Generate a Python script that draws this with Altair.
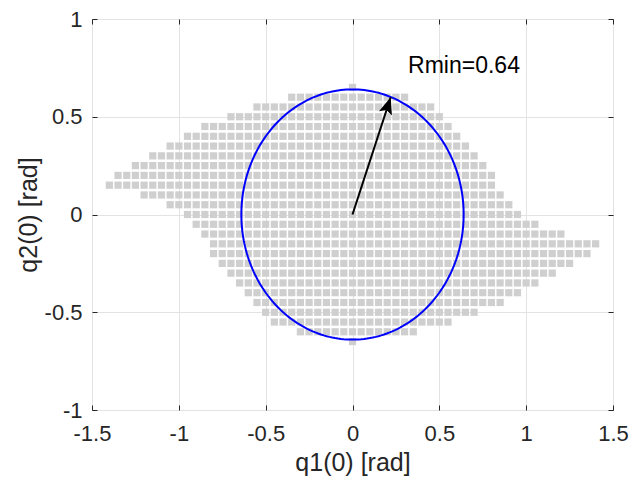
import altair as alt
import numpy as np
import pandas as pd

# ---- data ----
q2_rows = [0.65, 0.60, 0.55, 0.50, 0.45, 0.40, 0.35, 0.30, 0.25, 0.20, 0.15, 0.10, 0.05, 0.00,
           -0.05, -0.10, -0.15, -0.20, -0.25, -0.30, -0.35, -0.40, -0.45, -0.50, -0.55, -0.60, -0.65]
q1_left = [0.00, -0.35, -0.55, -0.70, -0.85, -0.95, -1.05, -1.15, -1.25, -1.35, -1.40, -1.20, -1.05, -0.95,
           -0.90, -0.85, -0.80, -0.80, -0.75, -0.70, -0.65, -0.60, -0.55, -0.50, -0.45, -0.30, 0.00]
q1_right = [0.00, 0.30, 0.45, 0.50, 0.55, 0.60, 0.65, 0.70, 0.75, 0.80, 0.80, 0.85, 0.90, 0.95,
            1.05, 1.20, 1.40, 1.35, 1.25, 1.15, 1.05, 0.95, 0.85, 0.70, 0.55, 0.35, 0.00]
grid_step = 0.05

r_min = 0.64
arrow_tip = [0.22, 0.60]
label_pos = [0.32, 0.76]
label_text = "Rmin=0.64"

x_ticks = [-1.5, -1, -0.5, 0, 0.5, 1, 1.5]
y_ticks = [-1, -0.5, 0, 0.5, 1]
x_title = "q1(0) [rad]"
y_title = "q2(0) [rad]"

# ---- build tables ----
pts = []
for q2, lo, hi in zip(q2_rows, q1_left, q1_right):
    k0 = int(round(lo / grid_step))
    k1 = int(round(hi / grid_step))
    for k in range(k0, k1 + 1):
        pts.append({"q1": round(k * grid_step, 2), "q2": q2})
df_pts = pd.DataFrame(pts)

theta = np.linspace(0, 2 * np.pi, 241)
df_circ = pd.DataFrame({"q1": r_min * np.cos(theta), "q2": r_min * np.sin(theta), "i": np.arange(len(theta))})
df_shaft = pd.DataFrame({"q1": [0.0, arrow_tip[0]], "q2": [0.0, arrow_tip[1]], "i": [0, 1]})
df_head = pd.DataFrame({"q1": [arrow_tip[0]], "q2": [arrow_tip[1]]})
df_text = pd.DataFrame({"q1": [label_pos[0]], "q2": [label_pos[1]], "t": [label_text]})

W, H = 521, 391
FONT = "Liberation Sans"
DARK = "#262626"

xs = alt.Scale(domain=[-1.5, 1.5], nice=False, zero=False)
ys = alt.Scale(domain=[-1, 1], nice=False, zero=False)

ax_x = alt.Axis(values=x_ticks, labelExpr="toString(datum.value)", grid=True, gridColor="#e3e3e3",
                domain=False, ticks=False, labelFont=FONT, labelFontSize=22, labelColor=DARK,
                labelPadding=13, labelFlush=False, title=x_title, titleFont=FONT, titleFontSize=25,
                titleFontWeight="normal", titleColor=DARK, titlePadding=6)
ax_y = alt.Axis(values=y_ticks, labelExpr="toString(datum.value)", grid=True, gridColor="#e3e3e3",
                domain=False, ticks=False, labelFont=FONT, labelFontSize=22, labelColor=DARK,
                labelPadding=10, labelFlush=False, title=y_title, titleFont=FONT, titleFontSize=25,
                titleFontWeight="normal", titleColor=DARK, titlePadding=3)


def tick_axis(orient, offset, values):
    return alt.Axis(orient=orient, offset=offset, values=values, labels=False, grid=False,
                    domain=False, ticks=True, tickSize=5, tickColor=DARK, tickWidth=1, title=None)


squares = alt.Chart(df_pts).mark_square(size=52, color="#cfcfcf", opacity=1).encode(
    x=alt.X("q1:Q", scale=xs, axis=ax_x),
    y=alt.Y("q2:Q", scale=ys, axis=ax_y),
)

circle = alt.Chart(df_circ).mark_line(color="#0000ff", strokeWidth=2).encode(
    x=alt.X("q1:Q", scale=xs, axis=tick_axis("top", -H, x_ticks)),
    y=alt.Y("q2:Q", scale=ys, axis=tick_axis("right", -W, y_ticks)),
    order=alt.Order("i:Q"),
)

shaft = alt.Chart(df_shaft).mark_line(color="black", strokeWidth=2).encode(
    x=alt.X("q1:Q", scale=xs, axis=tick_axis("bottom", -H, x_ticks)),
    y=alt.Y("q2:Q", scale=ys, axis=tick_axis("left", -W, y_ticks)),
    order=alt.Order("i:Q"),
)

head = alt.Chart(df_head).mark_point(
    shape="M0,0 L-0.68,1.7 L0,1.35 L0.68,1.7 Z", filled=True, color="black",
    size=400, angle=18, opacity=1, strokeWidth=0,
).encode(
    x=alt.X("q1:Q", scale=xs, axis=None),
    y=alt.Y("q2:Q", scale=ys, axis=None),
)

text = alt.Chart(df_text).mark_text(align="left", baseline="middle", font=FONT, fontSize=23,
                                    color="black").encode(
    x=alt.X("q1:Q", scale=xs, axis=None),
    y=alt.Y("q2:Q", scale=ys, axis=None),
    text="t:N",
)

chart = alt.layer(squares, circle, shaft, head, text).resolve_axis(
    x="independent", y="independent"
).properties(
    width=W, height=H,
    autosize=alt.AutoSizeParams(type="none"),
    padding={"left": 92, "top": 19, "right": 19, "bottom": 74},
    background="white",
).configure_view(stroke=DARK, strokeWidth=1)

chart.save("out.html", embed_options={"renderer": "svg", "actions": False})
